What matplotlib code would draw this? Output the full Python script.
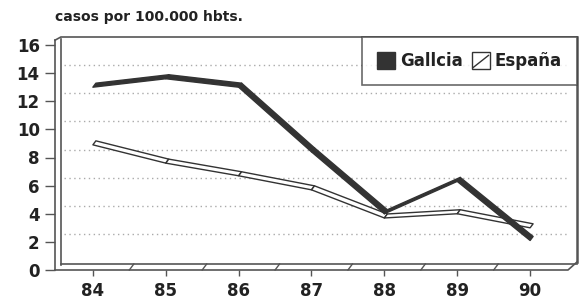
import numpy as np
import matplotlib.pyplot as plt
from matplotlib.patches import Polygon, Patch, Rectangle
from matplotlib.lines import Line2D
from matplotlib.legend_handler import HandlerBase

plt.rcParams['font.family'] = ['DejaVu Sans']
plt.rcParams['font.weight'] = 'bold'

years = [84, 85, 86, 87, 88, 89, 90]
galicia = [13.0, 13.6, 13.0, 8.4, 4.0, 6.3, 2.1]
espana = [8.9, 7.6, 6.7, 5.7, 3.7, 4.0, 3.0]
yticks = [0, 2, 4, 6, 8, 10, 12, 14, 16]

W, H = 581, 304
fig = plt.figure(figsize=(W / 100, H / 100), dpi=100)
x0, x1 = 83.48, 90.52
ax = fig.add_axes([55 / W, 34 / H, 513 / W, 225 / H])
ax.set_xlim(x0, x1)
ax.set_ylim(0, 16)
for s in ax.spines.values():
    s.set_visible(False)

# pixel -> data units for the fake 3D depth
px_x = (x1 - x0) / 513
px_y = 16 / 225
wdx, wdy = 9 * px_x, 8 * px_y     # back wall
rdx, rdy = 3 * px_x, 4 * px_y     # ribbon depth
fc = '#555555'

# grid on back wall
for v in yticks[1:-1]:
    ax.plot([x0 + wdx, x1 + wdx], [v + wdy, v + wdy], ls=(0, (1, 2.5)),
            color='#aaaaaa', lw=1.0, zorder=1)

# frame (walls and floor)
kw = dict(color=fc, zorder=2, clip_on=False)
ax.plot([x0, x0], [0, 16 + wdy * 0.6], lw=1.2, **kw)
ax.plot([x0 + wdx * 0.65, x0 + wdx * 0.65], [wdy * 0.6, 16 + wdy * 0.8], lw=1.2, **kw)
ax.plot([x0, x0 + wdx * 0.65, x1 + wdx], [16 + wdy * 0.6, 16 + wdy, 16 + wdy], lw=1.2, **kw)
ax.plot([x1 + wdx, x1 + wdx], [16 + wdy, wdy], lw=1.8, **kw)
ax.plot([x0, x1, x1 + wdx], [0, 0, wdy], lw=1.2, **kw)
ax.plot([x0 + wdx * 0.65, x1 + wdx], [wdy * 0.75, wdy * 0.75], lw=1.2, **kw)
for b in np.arange(84.5, 90.5, 1.0):
    ax.plot([b, b + wdx * 0.5], [0, wdy * 0.75], lw=1.0, **kw)


def ribbon(vals, face, edge):
    for i in range(len(years) - 1):
        xa, xb = years[i], years[i + 1]
        ya, yb = vals[i], vals[i + 1]
        pts = [(xa, ya), (xb, yb), (xb + rdx, yb + rdy), (xa + rdx, ya + rdy)]
        ax.add_patch(Polygon(pts, closed=True, facecolor=face, edgecolor=edge,
                             lw=1.0, zorder=4, joinstyle='round'))


ribbon(espana, 'white', '#333333')
ribbon(galicia, '#333333', '#333333')

ax.set_xticks(years)
ax.set_xticklabels([str(y) for y in years])
ax.set_yticks(yticks)
ax.tick_params(axis='y', length=7, width=1, color=fc, pad=4, labelsize=12,
               labelcolor='#222222')
ax.tick_params(axis='x', length=4, width=1, color=fc, pad=5, labelsize=12,
               labelcolor='#222222')

fig.text(55 / W, 1 - 17 / H, 'casos por 100.000 hbts.', fontsize=10,
         fontweight='bold', va='center', color='#222222')


class DiagHandler(HandlerBase):
    def create_artists(self, legend, orig, xd, yd, width, height, fontsize, trans):
        r = Rectangle((-xd, -yd), width, height, facecolor='white',
                      edgecolor='#333333', lw=1.0, transform=trans)
        ln = Line2D([-xd + 1, -xd + width - 1], [-yd + 1, -yd + height * 0.8],
                    color='#333333', lw=1.0, transform=trans)
        return [r, ln]


h_gal = Patch(facecolor='#333333', edgecolor='#333333')
h_esp = Patch(facecolor='white', edgecolor='#333333')
leg = fig.legend([h_gal, h_esp], ['Gallcia', 'España'], ncol=2, loc='upper right',
                 bbox_to_anchor=(577 / W, 1 - 37 / H), borderaxespad=0,
                 frameon=True, fancybox=False, edgecolor='#444444',
                 prop={'size': 12, 'weight': 'bold'}, handlelength=1.1,
                 handleheight=1.2, handletextpad=0.3, columnspacing=0.5,
                 borderpad=0.9, handler_map={h_esp: DiagHandler()})
for t in leg.get_texts():
    t.set_color('#222222')
leg.get_frame().set_linewidth(1.2)

fig.savefig('out.png', dpi=100)
